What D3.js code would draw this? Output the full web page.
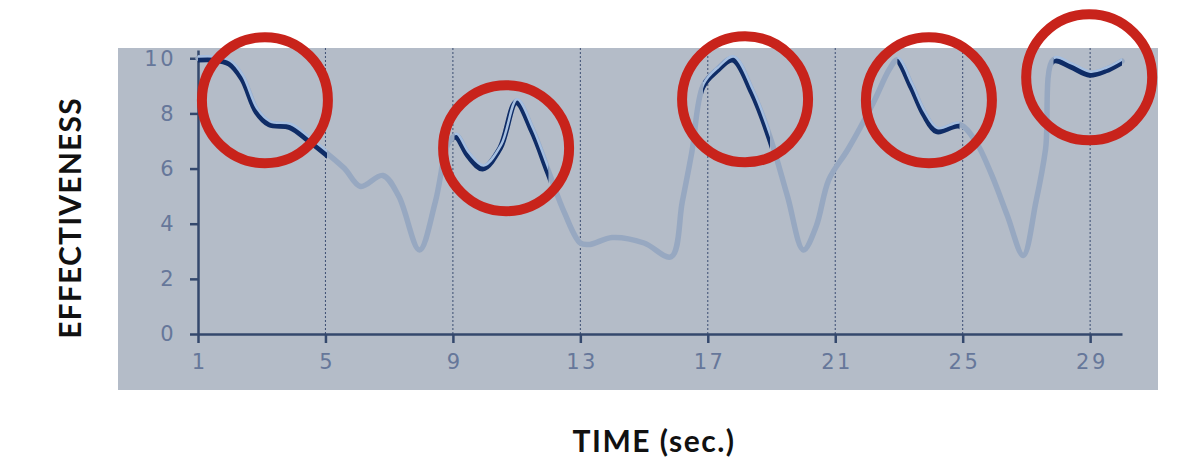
<!DOCTYPE html>
<html>
<head>
<meta charset="utf-8">
<script src="https://cdn.jsdelivr.net/npm/d3@7"></script>
<style>
  html, body { margin: 0; padding: 0; background: #ffffff; }
  svg { display: block; }
</style>
</head>
<body>
<svg id="chart" width="1178" height="468"></svg>
<script>
// ---- data ----
const time = [1, 1.5, 2.0, 2.4, 2.85, 3.25, 3.9, 4.5, 5.05, 5.6, 6.1, 6.8, 7.3, 7.95, 8.45, 8.85, 9.1, 9.5, 9.95, 10.5, 11.0, 11.5, 12.0, 12.5, 13.0, 13.3, 14.0, 15.0, 15.85, 16.2, 16.5, 16.85, 17.3, 17.8, 18.4, 18.95, 19.5, 20.0, 20.4, 20.8, 21.4, 22.2, 22.7, 22.95, 23.4, 23.8, 24.2, 24.9, 25.4, 25.9, 26.4, 26.9, 27.3, 27.6, 27.85, 28.4, 29.0, 29.5, 30.0];
const effectiveness = [10.0, 10.0, 9.85, 9.3, 8.1, 7.65, 7.55, 7.05, 6.55, 6.0, 5.35, 5.75, 5.0, 3.05, 4.8, 6.9, 7.2, 6.5, 6.05, 6.8, 8.45, 7.4, 5.9, 4.4, 3.3, 3.25, 3.5, 3.3, 2.8, 4.8, 6.6, 9.0, 9.6, 10.0, 8.8, 7.15, 5.0, 3.05, 3.9, 5.6, 6.7, 8.4, 9.6, 9.95, 9.0, 8.0, 7.4, 7.6, 7.0, 5.8, 4.3, 2.85, 4.8, 6.7, 9.95, 9.75, 9.45, 9.6, 9.9];
const focusStart = [1, 9.05, 16.85, 22.95, 27.85];
const focusEnd = [5.05, 12.0, 18.95, 24.9, 30];
const circleTime = [3.1, 10.67, 18.17, 23.94, 28.97];
const circleEff = [8.48, 6.74, 8.51, 8.48, 9.31];
const xTicks = [1, 5, 9, 13, 17, 21, 25, 29];
const yTicks = [0, 2, 4, 6, 8, 10];
const xTitle = "TIME (sec.)";
const yTitle = "EFFECTIVENESS";

// ---- chart ----
const svg = d3.select("#chart");
const x = d3.scaleLinear().domain([1, 30]).range([198, 1122]);
const y = d3.scaleLinear().domain([0, 10.3]).range([334, 50]);

// panel
svg.append("rect").attr("x", 118).attr("y", 48).attr("width", 1040).attr("height", 342)
  .attr("fill", "#b4bcc8");

// vertical dotted guides
svg.append("g").selectAll("line").data(xTicks.slice(1)).join("line")
  .attr("x1", d => x(d)).attr("x2", d => x(d))
  .attr("y1", 48).attr("y2", 334)
  .attr("stroke", "#2f426a").attr("stroke-width", 1)
  .attr("stroke-dasharray", "2,2").attr("opacity", 0.9);

// axes
const xAxis = d3.axisBottom(x).tickValues(xTicks).tickFormat(d3.format("d"))
  .tickSize(9).tickSizeOuter(0).tickPadding(11);
const yAxis = d3.axisLeft(y).tickValues(yTicks).tickFormat(d3.format("d"))
  .tickSize(8).tickSizeOuter(0).tickPadding(14);

const gx = svg.append("g").attr("transform", `translate(0,${y(0)})`).call(xAxis);
const gy = svg.append("g").attr("transform", `translate(${x(1)},0)`).call(yAxis);
[gx, gy].forEach(g => {
  g.select(".domain").attr("stroke", "#34486d").attr("stroke-width", 2.5);
  g.selectAll(".tick line").attr("stroke", "#34486d").attr("stroke-width", 2.5);
  g.selectAll(".tick text").attr("fill", "#66779a")
    .style("font-family", "'DejaVu Sans', sans-serif").style("font-size", "21px")
    .style("letter-spacing", "2.5px");
});
gx.selectAll(".tick text").attr("dx", "1.25px");

// line
const pts = time.map((t, i) => [t, effectiveness[i]]);
const line = d3.line().x(d => x(d[0])).y(d => y(d[1])).curve(d3.curveCatmullRom.alpha(0.5));

svg.append("path").attr("d", line(pts)).attr("fill", "none")
  .attr("stroke", "#97a8c1").attr("stroke-width", 5.5).attr("stroke-linecap", "round");

// focus windows via clip paths
const defs = svg.append("defs");
focusStart.forEach((s, i) => {
  defs.append("clipPath").attr("id", "clip" + i).append("rect")
    .attr("x", x(s)).attr("y", 0).attr("width", x(focusEnd[i]) - x(s)).attr("height", 468);
  const g = svg.append("g").attr("clip-path", `url(#clip${i})`);
  g.append("path").attr("d", line(pts)).attr("fill", "none")
    .attr("transform", "translate(-0.5,1.5)")
    .attr("stroke", "#0f2c66").attr("stroke-width", 5.5).attr("stroke-linecap", "round");
  g.append("path").attr("d", line(pts)).attr("fill", "none")
    .attr("transform", "translate(0.5,-1.8)")
    .attr("stroke", "#a6bfe0").attr("stroke-width", 2.5).attr("stroke-linecap", "round");
});

// red circles
svg.append("g").selectAll("circle").data(circleTime).join("circle")
  .attr("cx", d => x(d)).attr("cy", (d, i) => y(circleEff[i])).attr("r", 63)
  .attr("fill", "none").attr("stroke", "#c8231b").attr("stroke-width", 10);

// titles
svg.append("text").attr("x", 654).attr("y", 452).attr("text-anchor", "middle")
  .style("font-family", "Lato, sans-serif").style("font-weight", 700).style("font-size", "30px")
  .style("letter-spacing", "1.5px")
  .attr("fill", "#111").text(xTitle);
svg.append("text").attr("transform", "translate(81,218) rotate(-90)").attr("text-anchor", "middle")
  .style("font-family", "Lato, sans-serif").style("font-weight", 700).style("font-size", "30px")
  .style("letter-spacing", "1.2px")
  .attr("fill", "#111").text(yTitle);
</script>
</body>
</html>
